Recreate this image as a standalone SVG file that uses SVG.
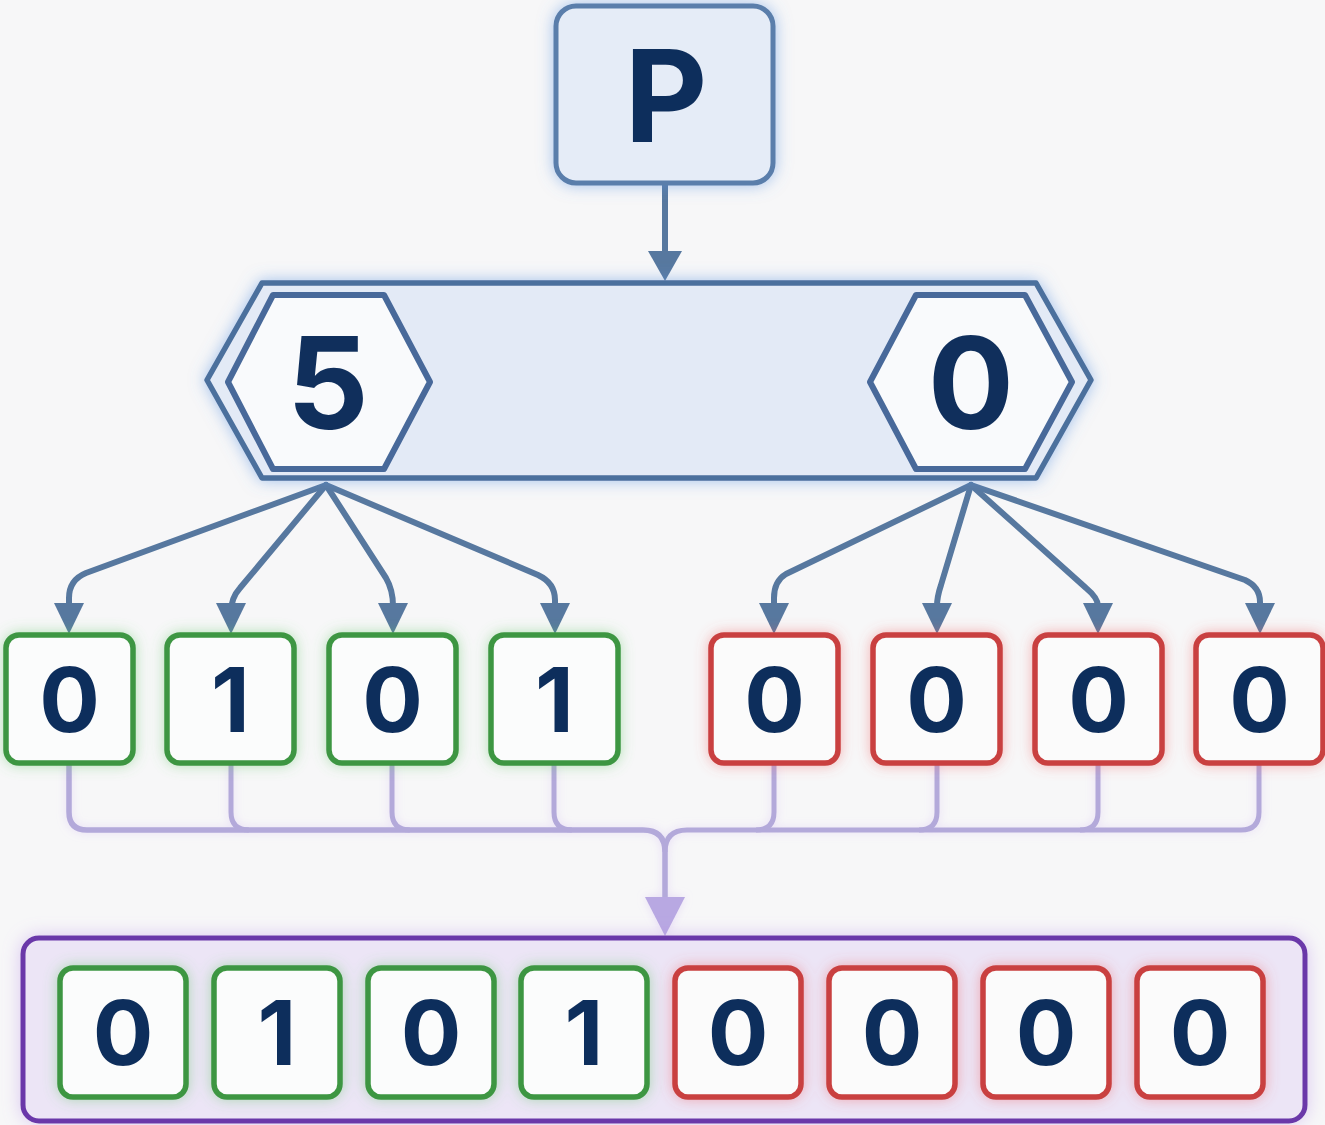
<svg xmlns="http://www.w3.org/2000/svg" width="1325" height="1125" viewBox="0 0 1325 1125">
  <defs>
    <style>
      .digit { font-family: "Inter", "Open Sans", "Liberation Sans", sans-serif; font-weight: 700; fill: #102f5c; text-anchor: middle; }
      .big { font-size: 128px; }
      .small { font-size: 90px; }
      .bit1 { fill: #fbfcfc; stroke: #3e9643; stroke-width: 5.5; }
      .bit0 { fill: #fbfbfb; stroke: #c9403f; stroke-width: 5.5; }
      .split { fill: none; stroke: #57789f; stroke-width: 6; stroke-linejoin: round; stroke-linecap: round; }
      .merge { fill: none; stroke: #b3a9da; stroke-width: 5; stroke-linejoin: round; }
    </style>
    <filter id="glowBlue" x="-20%" y="-20%" width="140%" height="140%">
      <feGaussianBlur in="SourceAlpha" stdDeviation="8" result="b"/>
      <feFlood flood-color="#5b93e0" flood-opacity="0.55"/>
      <feComposite in2="b" operator="in" result="g"/>
      <feMerge><feMergeNode in="g"/><feMergeNode in="SourceGraphic"/></feMerge>
    </filter>
    <filter id="glowGreen" x="-20%" y="-20%" width="140%" height="140%">
      <feGaussianBlur in="SourceAlpha" stdDeviation="7" result="b"/>
      <feFlood flood-color="#5cc35f" flood-opacity="0.45"/>
      <feComposite in2="b" operator="in" result="g"/>
      <feMerge><feMergeNode in="g"/><feMergeNode in="SourceGraphic"/></feMerge>
    </filter>
    <filter id="glowRed" x="-20%" y="-20%" width="140%" height="140%">
      <feGaussianBlur in="SourceAlpha" stdDeviation="7" result="b"/>
      <feFlood flood-color="#ef5a5a" flood-opacity="0.45"/>
      <feComposite in2="b" operator="in" result="g"/>
      <feMerge><feMergeNode in="g"/><feMergeNode in="SourceGraphic"/></feMerge>
    </filter>
    <filter id="glowPurple" x="-10%" y="-20%" width="120%" height="140%">
      <feGaussianBlur in="SourceAlpha" stdDeviation="9" result="b"/>
      <feFlood flood-color="#b58ae6" flood-opacity="0.45"/>
      <feComposite in2="b" operator="in" result="g"/>
      <feMerge><feMergeNode in="g"/><feMergeNode in="SourceGraphic"/></feMerge>
    </filter>
    <filter id="glowLine" x="-20%" y="-20%" width="140%" height="140%">
      <feGaussianBlur in="SourceAlpha" stdDeviation="5" result="b"/>
      <feFlood flood-color="#c6a8f0" flood-opacity="0.35"/>
      <feComposite in2="b" operator="in" result="g"/>
      <feMerge><feMergeNode in="g"/><feMergeNode in="SourceGraphic"/></feMerge>
    </filter>
  </defs>

  <rect width="1325" height="1125" fill="#f7f7f8"/>

  <!-- connectors -->
  <g id="connectors">
    <!-- P into the split bar -->
    <path d="M665,184 V252" fill="none" stroke="#57789f" stroke-width="6"/>
    <path d="M648,251 L682,251 L665,281 Z" fill="#57789f"/>

    <!-- high nibble fan-out -->
    <path class="split" d="M326,485 L86,573 Q69,580 69,598 V606"/>
    <path class="split" d="M326,485 L240,588 Q231,598 231,612 V606"/>
    <path class="split" d="M326,485 L386,578 Q393,590 393,606"/>
    <path class="split" d="M326,485 L538,575 Q555,583 555,600 V606"/>
    <!-- low nibble fan-out -->
    <path class="split" d="M971,485 L786,574 Q774,581 774,598 V606"/>
    <path class="split" d="M971,485 L941,585 Q937,597 937,606"/>
    <path class="split" d="M971,485 L1086,588 Q1098,598 1098,606"/>
    <path class="split" d="M971,485 L1245,580 Q1260,587 1260,602 V606"/>
    <g fill="#57789f">
      <path d="M54,603 L84,603 L69,634 Z"/>
      <path d="M216,603 L246,603 L231,634 Z"/>
      <path d="M378,603 L408,603 L393,634 Z"/>
      <path d="M540,603 L570,603 L555,634 Z"/>
      <path d="M759,603 L789,603 L774,634 Z"/>
      <path d="M922,603 L952,603 L937,634 Z"/>
      <path d="M1083,603 L1113,603 L1098,634 Z"/>
      <path d="M1245,603 L1275,603 L1260,634 Z"/>
    </g>

    <!-- merge bus -->
    <g class="merge" filter="url(#glowLine)">
      <path d="M69,764 V812 Q69,830 87,830 H643 Q665,830 665,852 V900" stroke-width="5.5"/>
      <path d="M1259,764 V812 Q1259,830 1241,830 H687 Q665,830 665,852"/>
      <path d="M231,764 V812 Q231,830 249,830"/>
      <path d="M392,764 V812 Q392,830 410,830"/>
      <path d="M554,764 V812 Q554,830 572,830"/>
      <path d="M774,764 V812 Q774,830 756,830"/>
      <path d="M937,764 V812 Q937,830 919,830"/>
      <path d="M1098,764 V812 Q1098,830 1080,830"/>
      <path d="M645,897 L685,897 L665,936 Z" fill="#b8a8e2" stroke="none"/>
    </g>
  </g>

  <!-- source byte -->
  <g id="node-p" filter="url(#glowBlue)">
    <rect x="556" y="6" width="217" height="177" rx="20" fill="#e5ecf7" stroke="#5a7eab" stroke-width="5"/>
    <text class="digit big" x="666" y="142">P</text>
  </g>

  <!-- split bar with the two nibbles -->
  <g id="node-split" filter="url(#glowBlue)">
    <path d="M262,283 L1036,283 L1091,380 L1036,478 L262,478 L207,380 Z" fill="#e3eaf6" stroke="#4c6f9d" stroke-width="5.5" stroke-linejoin="round"/>
  </g>
  <g id="node-high">
    <path d="M273,295 L384,295 L430,382 L384,469 L273,469 L228,382 Z" fill="#f9fafc" stroke="#48699a" stroke-width="6" stroke-linejoin="round"/>
    <text class="digit big" x="328" y="429">5</text>
  </g>
  <g id="node-low">
    <path d="M916,295 L1025,295 L1072,382 L1025,469 L916,469 L870,382 Z" fill="#f9fafc" stroke="#48699a" stroke-width="6" stroke-linejoin="round"/>
    <text class="digit big" x="971" y="429">0</text>
  </g>

  <!-- expanded bits -->
  <g id="bits-high" filter="url(#glowGreen)">
    <g id="bit-h0"><rect class="bit1" x="6" y="635" width="127" height="128" rx="13"/><text class="digit small" x="69.5" y="732">0</text></g>
    <g id="bit-h1"><rect class="bit1" x="167" y="635" width="127" height="128" rx="13"/><text class="digit small" x="230.5" y="732">1</text></g>
    <g id="bit-h2"><rect class="bit1" x="329" y="635" width="127" height="128" rx="13"/><text class="digit small" x="392.5" y="732">0</text></g>
    <g id="bit-h3"><rect class="bit1" x="491" y="635" width="127" height="128" rx="13"/><text class="digit small" x="554.5" y="732">1</text></g>
  </g>
  <g id="bits-low" filter="url(#glowRed)">
    <g id="bit-l0"><rect class="bit0" x="711" y="635" width="127" height="128" rx="13"/><text class="digit small" x="774.5" y="732">0</text></g>
    <g id="bit-l1"><rect class="bit0" x="873" y="635" width="127" height="128" rx="13"/><text class="digit small" x="936.5" y="732">0</text></g>
    <g id="bit-l2"><rect class="bit0" x="1035" y="635" width="127" height="128" rx="13"/><text class="digit small" x="1098.5" y="732">0</text></g>
    <g id="bit-l3"><rect class="bit0" x="1196" y="635" width="127" height="128" rx="13"/><text class="digit small" x="1259.5" y="732">0</text></g>
  </g>

  <!-- combined byte -->
  <g id="node-result">
    <rect x="23" y="938" width="1282" height="183" rx="16" fill="#ece5f6" stroke="#6a38a9" stroke-width="5" filter="url(#glowPurple)"/>
    <g filter="url(#glowGreen)">
      <rect class="bit1" x="60" y="968" width="126" height="129" rx="13"/><text class="digit small" x="123" y="1065">0</text>
      <rect class="bit1" x="214" y="968" width="126" height="129" rx="13"/><text class="digit small" x="277" y="1065">1</text>
      <rect class="bit1" x="368" y="968" width="126" height="129" rx="13"/><text class="digit small" x="431" y="1065">0</text>
      <rect class="bit1" x="521" y="968" width="126" height="129" rx="13"/><text class="digit small" x="584" y="1065">1</text>
    </g>
    <g filter="url(#glowRed)">
      <rect class="bit0" x="675" y="968" width="126" height="129" rx="13"/><text class="digit small" x="738" y="1065">0</text>
      <rect class="bit0" x="829" y="968" width="126" height="129" rx="13"/><text class="digit small" x="892" y="1065">0</text>
      <rect class="bit0" x="983" y="968" width="126" height="129" rx="13"/><text class="digit small" x="1046" y="1065">0</text>
      <rect class="bit0" x="1137" y="968" width="126" height="129" rx="13"/><text class="digit small" x="1200" y="1065">0</text>
    </g>
  </g>
</svg>
